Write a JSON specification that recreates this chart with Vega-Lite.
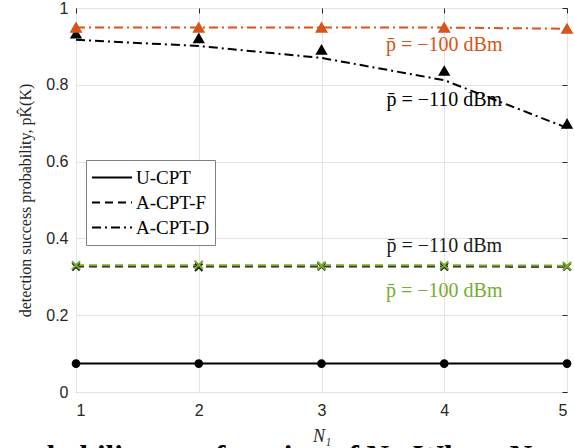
{
  "$schema": "https://vega.github.io/schema/vega-lite/v6.json",
  "width": 491,
  "height": 384,
  "autosize": {"type": "none"},
  "padding": {"left": 76, "top": 8, "right": 7, "bottom": 56},
  "background": "white",
  "title": {
    "text": "probability as a function of N₁. Where N",
    "orient": "bottom", "anchor": "start", "frame": "group",
    "baseline": "top", "offset": -2, "dx": -75,
    "font": "Liberation Serif", "fontSize": 31, "fontWeight": "bold", "color": "black"
  },
  "config": {
    "view": {"stroke": "#262626", "strokeWidth": 1},
    "axis": {
      "grid": true, "gridColor": "#e3e3e3", "gridWidth": 1,
      "domain": false, "ticks": false,
      "labelFont": "Liberation Sans", "labelFontSize": 16, "labelColor": "#262626",
      "titleFont": "Liberation Serif", "titleFontWeight": "normal", "titleColor": "#262626"
    }
  },
  "datasets": {
    "curves": [
      {"series": "U-CPT", "scheme": "U-CPT", "N1": 1, "analysis": 0.074, "simulation": 0.074},
      {"series": "U-CPT", "scheme": "U-CPT", "N1": 2, "analysis": 0.074, "simulation": 0.074},
      {"series": "U-CPT", "scheme": "U-CPT", "N1": 3, "analysis": 0.074, "simulation": 0.074},
      {"series": "U-CPT", "scheme": "U-CPT", "N1": 4, "analysis": 0.074, "simulation": 0.074},
      {"series": "U-CPT", "scheme": "U-CPT", "N1": 5, "analysis": 0.074, "simulation": 0.074},
      {"series": "A-CPT-F, -110 dBm", "scheme": "A-CPT-F", "N1": 1, "analysis": 0.327, "simulation": 0.326},
      {"series": "A-CPT-F, -110 dBm", "scheme": "A-CPT-F", "N1": 2, "analysis": 0.327, "simulation": 0.325},
      {"series": "A-CPT-F, -110 dBm", "scheme": "A-CPT-F", "N1": 3, "analysis": 0.327, "simulation": 0.327},
      {"series": "A-CPT-F, -110 dBm", "scheme": "A-CPT-F", "N1": 4, "analysis": 0.327, "simulation": 0.326},
      {"series": "A-CPT-F, -110 dBm", "scheme": "A-CPT-F", "N1": 5, "analysis": 0.326, "simulation": 0.326},
      {"series": "A-CPT-F, -100 dBm", "scheme": "A-CPT-F", "N1": 1, "analysis": 0.330, "simulation": 0.330},
      {"series": "A-CPT-F, -100 dBm", "scheme": "A-CPT-F", "N1": 2, "analysis": 0.330, "simulation": 0.331},
      {"series": "A-CPT-F, -100 dBm", "scheme": "A-CPT-F", "N1": 3, "analysis": 0.330, "simulation": 0.329},
      {"series": "A-CPT-F, -100 dBm", "scheme": "A-CPT-F", "N1": 4, "analysis": 0.330, "simulation": 0.330},
      {"series": "A-CPT-F, -100 dBm", "scheme": "A-CPT-F", "N1": 5, "analysis": 0.329, "simulation": 0.328},
      {"series": "A-CPT-D, -110 dBm", "scheme": "A-CPT-D", "N1": 1, "analysis": 0.917, "simulation": 0.933},
      {"series": "A-CPT-D, -110 dBm", "scheme": "A-CPT-D", "N1": 2, "analysis": 0.901, "simulation": 0.921},
      {"series": "A-CPT-D, -110 dBm", "scheme": "A-CPT-D", "N1": 3, "analysis": 0.870, "simulation": 0.891},
      {"series": "A-CPT-D, -110 dBm", "scheme": "A-CPT-D", "N1": 4, "analysis": 0.812, "simulation": 0.836},
      {"series": "A-CPT-D, -110 dBm", "scheme": "A-CPT-D", "N1": 5, "analysis": 0.688, "simulation": 0.698},
      {"series": "A-CPT-D, -100 dBm", "scheme": "A-CPT-D", "N1": 1, "analysis": 0.949, "simulation": 0.949},
      {"series": "A-CPT-D, -100 dBm", "scheme": "A-CPT-D", "N1": 2, "analysis": 0.949, "simulation": 0.949},
      {"series": "A-CPT-D, -100 dBm", "scheme": "A-CPT-D", "N1": 3, "analysis": 0.949, "simulation": 0.949},
      {"series": "A-CPT-D, -100 dBm", "scheme": "A-CPT-D", "N1": 4, "analysis": 0.949, "simulation": 0.949},
      {"series": "A-CPT-D, -100 dBm", "scheme": "A-CPT-D", "N1": 5, "analysis": 0.946, "simulation": 0.946}
    ],
    "notes": [
      {"series": "A-CPT-D, -100 dBm", "N1": 4.0, "p": 0.904, "label": "p̄ = −100 dBm"},
      {"series": "A-CPT-D, -110 dBm", "N1": 4.0, "p": 0.760, "label": "p̄ = −110 dBm"},
      {"series": "A-CPT-F, -110 dBm", "N1": 4.0, "p": 0.381, "label": "p̄ = −110 dBm"},
      {"series": "A-CPT-F, -100 dBm", "N1": 4.0, "p": 0.264, "label": "p̄ = −100 dBm"}
    ]
  },
  "layer": [
    {
      "data": {"name": "curves"},
      "mark": {"type": "line", "strokeWidth": 2},
      "encoding": {
        "x": {
          "field": "N1", "type": "quantitative",
          "scale": {"domain": [1, 5], "nice": false},
          "axis": {"values": [1, 2, 3, 4, 5], "title": "N₁", "labelPadding": 10, "titleFontSize": 18, "titleFontStyle": "italic", "titlePadding": 9}
        },
        "y": {
          "field": "analysis", "type": "quantitative",
          "scale": {"domain": [0, 1], "nice": false},
          "axis": {"values": [0, 0.2, 0.4, 0.6, 0.8, 1], "format": "~g", "title": "detection success probability, pK̂(K)", "labelPadding": 8, "titleFontSize": 16, "titlePadding": 12}
        },
        "color": {
          "field": "series", "type": "nominal",
          "scale": {
            "domain": ["U-CPT", "A-CPT-F, -110 dBm", "A-CPT-F, -100 dBm", "A-CPT-D, -110 dBm", "A-CPT-D, -100 dBm"],
            "range": ["#000000", "#1a1a1a", "#77AC30", "#000000", "#D95319"]
          },
          "legend": null
        },
        "strokeDash": {
          "field": "scheme", "type": "nominal",
          "scale": {"domain": ["U-CPT", "A-CPT-F", "A-CPT-D"], "range": [[1, 0], [8, 5], [9, 4, 2, 4]]},
          "legend": {
            "title": null, "orient": "none", "legendX": 10, "legendY": 152,
            "symbolType": "stroke", "symbolStrokeColor": "black", "symbolStrokeWidth": 2,
            "symbolSize": 1600, "clipHeight": 25,
            "labelFont": "Liberation Serif", "labelFontSize": 19, "labelColor": "black",
            "fillColor": "white", "strokeColor": "#808080", "padding": 5, "rowPadding": 0, "labelOffset": 3
          }
        },
        "detail": {"field": "series"}
      }
    },
    {
      "data": {"name": "curves"},
      "mark": {"type": "point", "filled": true, "strokeWidth": 2, "opacity": 1},
      "encoding": {
        "x": {"field": "N1", "type": "quantitative", "axis": null},
        "y": {"field": "simulation", "type": "quantitative", "axis": null},
        "color": {"field": "series", "type": "nominal", "legend": null},
        "stroke": {
          "field": "series", "type": "nominal",
          "scale": {
            "domain": ["U-CPT", "A-CPT-F, -110 dBm", "A-CPT-F, -100 dBm", "A-CPT-D, -110 dBm", "A-CPT-D, -100 dBm"],
            "range": ["#000000", "#1a1a1a", "#77AC30", "#000000", "#D95319"]
          },
          "legend": null
        },
        "shape": {
          "field": "series", "type": "nominal",
          "scale": {
            "domain": ["U-CPT", "A-CPT-F, -110 dBm", "A-CPT-F, -100 dBm", "A-CPT-D, -110 dBm", "A-CPT-D, -100 dBm"],
            "range": ["circle", "M-1,-1L1,1M-1,1L1,-1", "M-1,-1L1,1M-1,1L1,-1", "triangle-up", "triangle-up"]
          },
          "legend": null
        },
        "size": {
          "field": "series", "type": "nominal",
          "scale": {
            "domain": ["U-CPT", "A-CPT-F, -110 dBm", "A-CPT-F, -100 dBm", "A-CPT-D, -110 dBm", "A-CPT-D, -100 dBm"],
            "range": [45, 90, 90, 75, 75]
          },
          "legend": null
        }
      }
    },
    {
      "data": {"name": "notes"},
      "mark": {"type": "text", "font": "Liberation Serif", "fontSize": 20, "align": "center", "baseline": "middle"},
      "encoding": {
        "x": {"field": "N1", "type": "quantitative", "axis": {"orient": "top", "values": [1, 2, 3, 4, 5], "labels": false, "ticks": true, "tickSize": -5, "tickColor": "#262626", "grid": false, "title": null}},
        "y": {"field": "p", "type": "quantitative", "axis": {"orient": "right", "values": [0, 0.2, 0.4, 0.6, 0.8, 1], "labels": false, "ticks": true, "tickSize": -5, "tickColor": "#262626", "grid": false, "title": null}},
        "text": {"field": "label"},
        "color": {"field": "series", "type": "nominal", "legend": null}
      }
    }
  ],
  "resolve": {"axis": {"x": "independent", "y": "independent"}}
}
